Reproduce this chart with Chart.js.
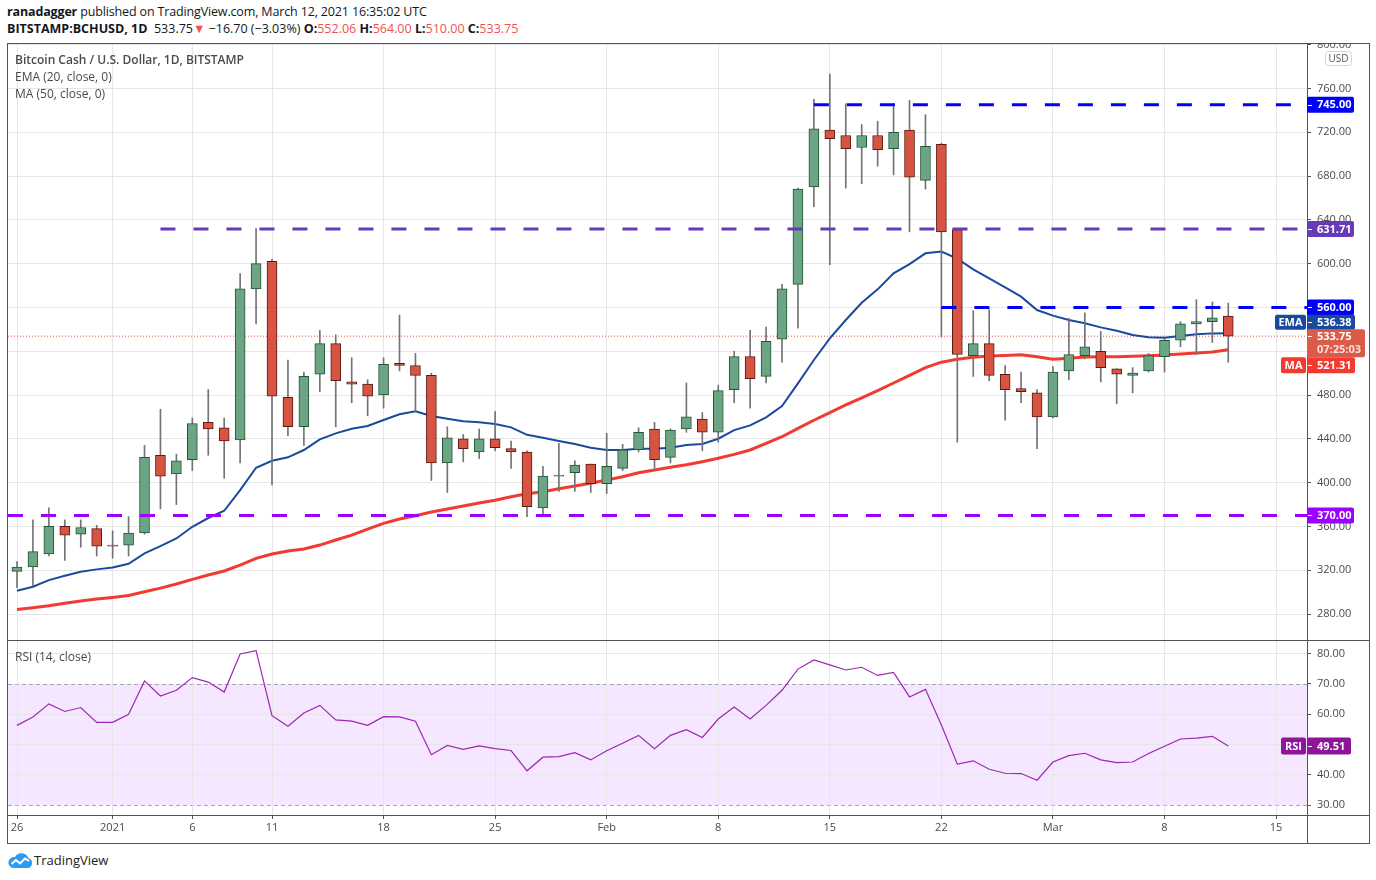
<!DOCTYPE html>
<html><head><meta charset="utf-8">
<script src="https://cdn.jsdelivr.net/npm/chart.js@4.4.1/dist/chart.umd.min.js"></script>
<style>
html,body{margin:0;padding:0;background:#fff;}
body{width:1376px;height:880px;position:relative;overflow:hidden;font-family:"Open Sans",sans-serif;color:#131722;}
.abs{position:absolute;white-space:nowrap;}
.line{position:absolute;background:#50535e;z-index:0;}
#mainWrap{position:absolute;left:8px;top:44px;width:1361px;height:596px;z-index:1;}
#rsiWrap{position:absolute;left:8px;top:641px;width:1361px;height:202px;z-index:1;}
#h1{left:7px;top:3px;font-size:12.5px;letter-spacing:-0.15px;z-index:2;}
#h2{left:7px;top:20px;font-size:12.5px;z-index:2;}
.r{color:#ef5350;}
.leg{left:15px;font-size:12px;color:#4a4a4a;z-index:2;line-height:17px;}
#logo{left:7px;top:851px;z-index:2;display:flex;align-items:center;font-size:13px;color:#222;}
</style></head><body>

<div class="abs" id="h1"><b>ranadagger</b> published on TradingView.com, March 12, 2021 16:35:02 UTC</div>
<div class="abs" id="h2"></div>

<div class="line" style="left:7px;top:43px;width:1363px;height:1px"></div>
<div class="line" style="left:7px;top:843px;width:1363px;height:1px"></div>
<div class="line" style="left:7px;top:43px;width:1px;height:801px"></div>
<div class="line" style="left:1369px;top:43px;width:1px;height:801px"></div>
<div class="line" style="left:1307px;top:43px;width:1px;height:801px"></div>
<div class="line" style="left:7px;top:640px;width:1363px;height:1px"></div>
<div class="line" style="left:7px;top:815px;width:1363px;height:1px"></div>

<div id="mainWrap"><canvas id="main"></canvas></div>
<div id="rsiWrap"><canvas id="rsi"></canvas></div>

<div class="abs leg" style="top:51px;font-weight:600;">Bitcoin Cash / U.S. Dollar, 1D, BITSTAMP</div>
<div class="abs leg" style="top:68px;">EMA (20, close, 0)</div>
<div class="abs leg" style="top:85px;">MA (50, close, 0)</div>
<div class="abs leg" style="top:648px;">RSI (14, close)</div>

<div class="abs" id="logo"><svg width="26" height="18" viewBox="0 0 26 18"><path d="M6 17 H20 A5 5 0 0 0 21.5 7.2 A7.5 7.5 0 0 0 8 6 A5.5 5.5 0 0 0 6 17 Z" fill="#2d9cf0"/><polyline points="4.5,13 9,9 13,12.5 18,7.5 22,10" fill="none" stroke="#fff" stroke-width="2"/></svg><span style="margin-left:1px">TradingView</span></div>

<script>
// ---------- DATA ----------
const dates = [
'2020-12-26','2020-12-27','2020-12-28','2020-12-29','2020-12-30','2020-12-31',
'2021-01-01','2021-01-02','2021-01-03','2021-01-04','2021-01-05','2021-01-06','2021-01-07','2021-01-08','2021-01-09','2021-01-10',
'2021-01-11','2021-01-12','2021-01-13','2021-01-14','2021-01-15','2021-01-16','2021-01-17','2021-01-18','2021-01-19','2021-01-20',
'2021-01-21','2021-01-22','2021-01-23','2021-01-24','2021-01-25','2021-01-26','2021-01-27','2021-01-28','2021-01-29','2021-01-30','2021-01-31',
'2021-02-01','2021-02-02','2021-02-03','2021-02-04','2021-02-05','2021-02-06','2021-02-07','2021-02-08','2021-02-09','2021-02-10',
'2021-02-11','2021-02-12','2021-02-13','2021-02-14','2021-02-15','2021-02-16','2021-02-17','2021-02-18','2021-02-19','2021-02-20',
'2021-02-21','2021-02-22','2021-02-23','2021-02-24','2021-02-25','2021-02-26','2021-02-27','2021-02-28',
'2021-03-01','2021-03-02','2021-03-03','2021-03-04','2021-03-05','2021-03-06','2021-03-07','2021-03-08','2021-03-09','2021-03-10','2021-03-11','2021-03-12'];

const open  = [319,323,335,360,353,358, 343,343,354,425,408,421,455,450,439,577, 602,478,451,499,527,492,490,480,509,507, 498,418,440,428,440,431,428,377,406,409,417,
  399,413,430,449,423,449,458,446,485,515, 497,531,581,670,722,717,706,717,705,722, 676,709,631,516,527,499,486,482,
  460,502,516,520,504,498,502,515,530,545,547,552.06];
const high  = [328,366,377,366,366,361, 356,369,434,467,426,459,485,459,591,632, 604,512,501,539,535,514,494,514,553,518, 500,451,444,449,465,438,429,415,436,420,417,
  445,435,450,455,449,491,464,489,520,539, 542,581,669,750,773,746,727,730,746,749, 736,710,632,557,558,507,501,485,
  506,550,555,538,504,505,518,531,547,567,565,564.00];
const low   = [304,306,333,329,341,333, 331,333,353,376,380,411,425,404,418,545, 398,443,434,483,451,473,461,468,502,465, 402,391,419,422,429,413,369,370,392,392,391,
  390,411,428,413,418,446,429,437,473,468, 491,510,541,652,599,669,673,689,681,629, 668,533,437,497,493,457,473,431,
  459,494,513,492,472,482,501,501,524,517,528,510.00];
const close = [323,337,360,352,359,342, 342,354,423,406,420,454,449,438,577,600, 479,451,497,527,493,490,479,508,507,498, 418,441,431,440,432,428,378,406,407,416,399,
  415,430,446,421,448,460,446,484,515,495, 529,577,668,723,714,705,717,704,720,679, 707,629,517,527,498,485,483,460,
  501,517,524,505,499,500,516,530,545,547,550.45,533.75];

const ema20 = [301.3,304.9,311,315,318.6,320.8, 322.6,325.9,335.4,342,349,359.7,367.7,374.3,393.2,413.6, 420,423.1,429.8,439.5,445,449.2,451.7,457.2,462.4,465.1,
  460.8,458.4,456,455.1,453.5,450.5,443.7,441,438,435.3,431.9, 429.8,429.8,431,431,431.9,434.3,435.3,440.1,448,452.3,
  459.6,470,490.7,512,531.8,548.5,564.3,576.5,591.1,599.6, 609.4,611,604.5,594.7,586.5,578.4,569.8,557.6,
  552.5,548.5,545.5,541.8,538.7,534.8,532.7,532.3,533.9,535.4,536.3,536.38];
const ma50 = [284.2,285.8,287.6,289.8,291.9,293.7, 295.2,297,300.4,303.7,307.4,311.7,315.6,319.3,324.7,330.8, 334.8,337.5,339.4,343,347.6,352.1,357.6,362.8,366.8,369.8,
  373.2,375.9,378.6,381.4,384,387.1,389.8,391.7,394.4,396.9,399.4, 402.4,405.4,409,411.5,414,416.3,419.1,422.2,425.8,429.8,
  435.9,441.9,449.6,457,464,471,477.5,484,491,498, 505,510,512.6,514.4,515.6,516.2,516.8,515,
  512.6,513.5,514.7,515,515,515.3,515.9,516.5,517.4,518.4,519.3,521.31];
const rsi14 = [56.3,59.1,63.4,60.9,62.2,57.3, 57.3,60.0,71.0,66.0,67.9,72.1,70.6,67.3,79.9,81.0, 59.5,56.0,60.4,62.9,58.1,57.7,56.3,59.2,59.1,57.7,
  46.6,49.7,48.4,49.5,48.6,48.0,41.3,45.8,46.0,47.3,44.9, 47.9,50.4,53.0,48.6,53.0,54.9,52.3,58.4,62.4,58.4,
  62.9,67.9,74.9,77.9,76.3,74.6,75.5,72.8,73.8,65.7, 68.2,56.4,43.5,44.6,41.8,40.5,40.4,38.2,
  44.2,46.3,47.1,44.9,44.0,44.2,47.0,49.4,51.8,52.1,52.7,49.51];

const levels = [745.00, 631.71, 560.00, 370.00];
const levelStart = ['2021-02-14', '2021-01-04', '2021-02-22', null];

const tickDates  = ['2020-12-26','2021-01-01','2021-01-06','2021-01-11','2021-01-18','2021-01-25','2021-02-01','2021-02-08','2021-02-15','2021-02-22','2021-03-01','2021-03-08','2021-03-15'];
const tickLabels = ['26','2021','6','11','18','25','Feb','8','15','22','Mar','8','15'];
const priceTicks = [280,320,360,400,440,480,520,560,600,640,680,720,760,800];
const rsiTicks = [30,40,50,60,70,80];
const countdown = '07:25:03';

// ---------- STYLE / LAYOUT ----------
const FONT = '"Open Sans", sans-serif';
const GRID = '#e6e6e6';
const UP='#6ba583', UPB='#225437', DN='#d75442', DNB='#5b1a13', WICK='#737375';
const EMA_C='#1a4a9e', MA_C='#f23b30', CLOSE_C='#dc5a48', RSI_C='#9c27b0';
const levelColors = ['#0000ff','#673ab7','#0000ff','#9c00ff'];
const X_MIN=-0.565, X_MAX=80.94;
const P_MIN=256.3, P_MAX=800.55;
const R_MIN=26.7, R_MAX=84.18;

const DAY0 = Date.UTC(2020,11,26);
function dayIndex(s){ const p=s.split('-').map(Number); return Math.round((Date.UTC(p[0],p[1]-1,p[2])-DAY0)/86400000); }
const xs = dates.map(dayIndex);
const N = dates.length;

// header
(function(){
  const c=close[N-1], pc=close[N-2], ch=c-pc, pct=ch/pc*100;
  const m = v => (v<0?'\u2212':'+')+Math.abs(v).toFixed(2);
  document.getElementById('h2').innerHTML =
   '<b>BITSTAMP:BCHUSD, 1D</b>&nbsp; '+c.toFixed(2)+'<span class="r">\u25BC</span> '+m(ch)+' ('+m(pct)+'%) '+
   '<b>O:</b><span class="r">'+open[N-1].toFixed(2)+'</span> <b>H:</b><span class="r">'+high[N-1].toFixed(2)+
   '</span> <b>L:</b><span class="r">'+low[N-1].toFixed(2)+'</span> <b>C:</b><span class="r">'+c.toFixed(2)+'</span>';
})();

function zeroPad(s){ s.paddingTop=0; s.paddingBottom=0; s.paddingLeft=0; s.paddingRight=0; }
function rr(c,x,y,w,h,r){ c.beginPath(); c.moveTo(x+r,y); c.lineTo(x+w-r,y); c.quadraticCurveTo(x+w,y,x+w,y+r); c.lineTo(x+w,y+h-r); c.quadraticCurveTo(x+w,y+h,x+w-r,y+h); c.lineTo(x+r,y+h); c.quadraticCurveTo(x,y+h,x,y+h-r); c.lineTo(x,y+r); c.quadraticCurveTo(x,y,x+r,y); c.closePath(); }
function valueBadge(c,R,yc,w,h,bg,text){
  c.save(); rr(c,R,yc-h/2,w,h,2); c.fillStyle=bg; c.fill();
  c.strokeStyle='#fff'; c.lineWidth=1; c.beginPath(); c.moveTo(R+1,Math.round(yc)+0.5); c.lineTo(R+5,Math.round(yc)+0.5); c.stroke();
  c.fillStyle='#fff'; c.font='bold 11px '+FONT; c.textBaseline='middle'; c.textAlign='left'; c.fillText(text,R+10,yc+0.5); c.restore();
}
function tagBadge(c,x,yc,w,h,bg,text){
  c.save(); rr(c,x,yc-h/2,w,h,2); c.fillStyle=bg; c.fill();
  c.fillStyle='#fff'; c.font='bold 11px '+FONT; c.textBaseline='middle'; c.textAlign='center'; c.fillText(text,x+w/2,yc+0.5); c.restore();
}

const mainBadges = {
  id:'mainBadges',
  afterDraw(chart){
    const c=chart.ctx, y=chart.scales.y, R=chart.chartArea.right;
    c.save(); rr(c,R+18.5,7.5,26,14,3); c.fillStyle='#fff'; c.fill(); c.strokeStyle='#d1d4dc'; c.lineWidth=1; c.stroke();
    c.fillStyle='#555'; c.font='10px '+FONT; c.textAlign='center'; c.textBaseline='middle'; c.fillText('USD',R+31.5,15); c.restore();
    levels.forEach((L,i)=>valueBadge(c,R,y.getPixelForValue(L),47,16,levelColors[i],L.toFixed(2)));
    const ye=y.getPixelForValue(ema20[N-1])-11;
    tagBadge(c,R-32,ye,31,15,EMA_C,'EMA'); valueBadge(c,R,ye,48,15,EMA_C,ema20[N-1].toFixed(2));
    const ym=y.getPixelForValue(ma50[N-1])+15.5;
    tagBadge(c,R-26,ym,25,16,MA_C,'MA'); valueBadge(c,R,ym,48,16,MA_C,ma50[N-1].toFixed(2));
    const yc=y.getPixelForValue(close[N-1])+7;
    c.save(); rr(c,R,yc-14,58,28,2); c.fillStyle=CLOSE_C; c.fill();
    c.strokeStyle='#fff'; c.beginPath(); c.moveTo(R+1,Math.round(yc-7)+0.5); c.lineTo(R+5,Math.round(yc-7)+0.5); c.stroke();
    c.fillStyle='#fff'; c.font='bold 11px '+FONT; c.textBaseline='middle'; c.fillText(close[N-1].toFixed(2),R+10,yc-6.5);
    c.fillStyle='rgba(255,255,255,0.82)'; c.fillText(countdown,R+10,yc+7); c.restore();
  }
};

const lvlDatasets = levels.map((L,i)=>({
  type:'line', order:0, data:[{x: levelStart[i]?dayIndex(levelStart[i]):X_MIN, y:L},{x:X_MAX,y:L}],
  borderColor:levelColors[i], borderWidth:3, borderDash:[15,18], pointRadius:0
}));

new Chart(document.getElementById('main'), {
  type:'line',
  data:{datasets:[
    ...lvlDatasets,
    {type:'bar', order:1, grouped:false, barThickness:10, borderSkipped:false, borderWidth:1,
     data:xs.map((x,i)=>({x, y:[open[i],close[i]]})),
     backgroundColor:close.map((c,i)=>c>=open[i]?UP:DN), borderColor:close.map((c,i)=>c>=open[i]?UPB:DNB)},
    {type:'bar', order:2, grouped:false, barThickness:1, borderWidth:0,
     data:xs.map((x,i)=>({x, y:[low[i],high[i]]})), backgroundColor:WICK},
    {type:'line', order:3, data:xs.map((x,i)=>({x,y:ema20[i]})), borderColor:EMA_C, borderWidth:2, pointRadius:0, tension:0},
    {type:'line', order:4, data:xs.map((x,i)=>({x,y:ma50[i]})), borderColor:MA_C, borderWidth:3, pointRadius:0, tension:0},
    {type:'line', order:5, data:[{x:X_MIN,y:close[N-1]},{x:X_MAX,y:close[N-1]}], borderColor:'#e8503e', borderWidth:1, borderDash:[1,2], pointRadius:0}
  ]},
  options:{
    responsive:true, maintainAspectRatio:false, animation:false, events:[],
    layout:{padding:0},
    plugins:{legend:{display:false}, tooltip:{enabled:false}},
    scales:{
      x:{type:'linear', min:X_MIN, max:X_MAX, offset:false,
         afterBuildTicks:s=>{ s.ticks = tickDates.map(d=>({value:dayIndex(d)})); },
         grid:{color:GRID, drawTicks:false, offset:false}, ticks:{display:false}, border:{display:false},
         afterFit:s=>{ s.height=0; zeroPad(s); }},
      y:{type:'linear', position:'right', min:P_MIN, max:P_MAX, beginAtZero:false,
         afterBuildTicks:s=>{ s.ticks = priceTicks.map(v=>({value:v})); },
         ticks:{callback:v=>Number(v).toFixed(2), color:'#4a4a4a', font:{family:FONT,size:11}, padding:6},
         grid:{color:GRID, tickColor:'#555', tickLength:4}, border:{display:false},
         afterFit:s=>{ s.width=62; zeroPad(s); }}
    }
  },
  plugins:[mainBadges]
});

const rsiDecor = {
  id:'rsiDecor',
  beforeDraw(chart){
    const c=chart.ctx, y=chart.scales.y, a=chart.chartArea;
    const y70=y.getPixelForValue(70), y30=y.getPixelForValue(30);
    c.save(); c.fillStyle='rgba(153,21,255,0.1)'; c.fillRect(a.left,y70,a.right-a.left,y30-y70);
    c.strokeStyle='rgba(120,123,134,0.65)'; c.lineWidth=1; c.setLineDash([4,3]);
    [y70,y30].forEach(v=>{ c.beginPath(); c.moveTo(a.left,Math.round(v)+0.5); c.lineTo(a.right,Math.round(v)+0.5); c.stroke(); });
    c.restore();
  },
  afterDraw(chart){
    const c=chart.ctx, y=chart.scales.y, R=chart.chartArea.right;
    const yr=y.getPixelForValue(rsi14[N-1]);
    tagBadge(c,R-26,yr,25,17,'#8e1599','RSI'); valueBadge(c,R,yr,44,17,'#8e1599',rsi14[N-1].toFixed(2));
  }
};

new Chart(document.getElementById('rsi'), {
  type:'line',
  data:{datasets:[
    {data:xs.map((x,i)=>({x,y:rsi14[i]})), borderColor:RSI_C, borderWidth:1.2, pointRadius:0, tension:0}
  ]},
  options:{
    responsive:true, maintainAspectRatio:false, animation:false, events:[],
    layout:{padding:0},
    plugins:{legend:{display:false}, tooltip:{enabled:false}},
    scales:{
      x:{type:'linear', min:X_MIN, max:X_MAX, offset:false,
         afterBuildTicks:s=>{ s.ticks = tickDates.map(d=>({value:dayIndex(d)})); },
         ticks:{autoSkip:false, maxRotation:0, callback:(v,i)=>tickLabels[i], color:'#4a4a4a', font:{family:FONT,size:11}, padding:2},
         grid:{color:GRID, tickColor:'#555', tickLength:4}, border:{display:false},
         afterFit:s=>{ s.height=28; zeroPad(s); }},
      y:{type:'linear', position:'right', min:R_MIN, max:R_MAX,
         afterBuildTicks:s=>{ s.ticks = rsiTicks.map(v=>({value:v})); },
         ticks:{callback:v=>Number(v).toFixed(2), color:'#4a4a4a', font:{family:FONT,size:11}, padding:6},
         grid:{color:ctx=>(ctx.tick && (ctx.tick.value===70||ctx.tick.value===30))?'rgba(0,0,0,0)':GRID, tickColor:'#555', tickLength:4},
         border:{display:false},
         afterFit:s=>{ s.width=62; zeroPad(s); }}
    }
  },
  plugins:[rsiDecor]
});
</script>
</body></html>
